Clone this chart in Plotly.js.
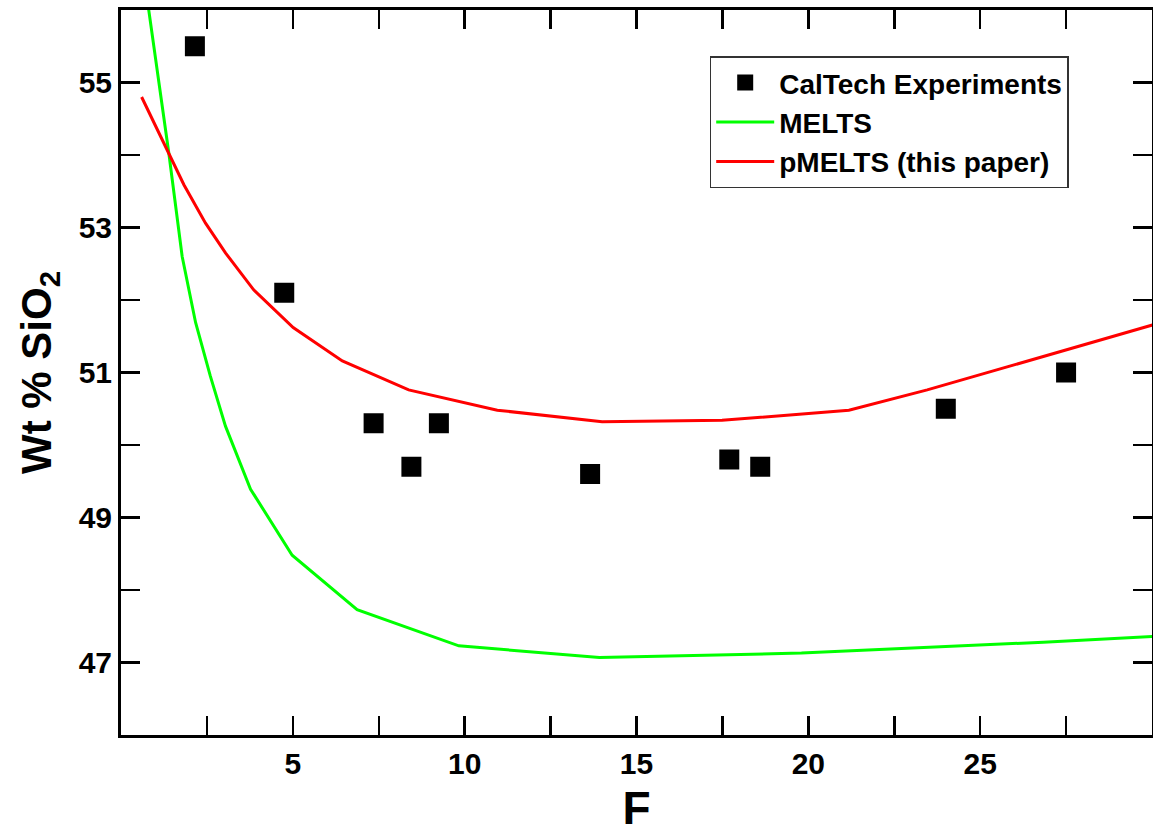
<!DOCTYPE html>
<html>
<head>
<meta charset="utf-8">
<script src="https://cdn.plot.ly/plotly-3.0.1.min.js"></script>
<style>
  html, body { margin: 0; padding: 0; background: #ffffff; }
  #chart { width: 1153px; height: 834px; }
</style>
</head>
<body>
<div id="chart"></div>
<script>
// CalTech experiments
const expF = [2.15, 4.75, 7.35, 8.45, 9.25, 13.65, 17.7, 18.6, 24.0, 27.5];
const expSiO2 = [55.5, 52.1, 50.3, 49.7, 50.3, 49.6, 49.8, 49.7, 50.5, 51.0];

// MELTS
const meltsF = [0.6, 1.39, 1.78, 2.17, 2.6, 3.04, 3.77, 4.98, 6.87, 9.83, 13.92, 19.8, 26.84, 30.05];
const meltsSiO2 = [56.7, 54.03, 52.6, 51.69, 50.95, 50.26, 49.39, 48.48, 47.73, 47.23, 47.07, 47.13, 47.28, 47.36];

// pMELTS (this paper)
const pmeltsF = [0.6, 1.83, 2.46, 3.04, 3.86, 5.01, 6.44, 8.37, 10.95, 14.0, 17.49, 21.18, 23.46, 30.05];
const pmeltsSiO2 = [54.8, 53.59, 53.06, 52.65, 52.14, 51.62, 51.16, 50.76, 50.48, 50.32, 50.34, 50.48, 50.76, 51.66];

const xTickVals = [2.5, 5, 7.5, 10, 12.5, 15, 17.5, 20, 22.5, 25, 27.5];
const xTickText = ['', '5', '', '10', '', '15', '', '20', '', '25', ''];
const yTickVals = [46, 47, 48, 49, 50, 51, 52, 53, 54, 55, 56];
const yTickText = ['', '47', '', '49', '', '51', '', '53', '', '55', ''];

const FONT = 'Liberation Sans, Arial, Helvetica, sans-serif';

const traces = [
  {
    x: expF, y: expSiO2, type: 'scatter', mode: 'markers',
    name: 'CalTech Experiments',
    marker: { symbol: 'square', size: 20, color: '#000000', line: { width: 0 } }
  },
  {
    x: meltsF, y: meltsSiO2, type: 'scatter', mode: 'lines',
    name: 'MELTS',
    line: { color: '#00ff00', width: 3 }
  },
  {
    x: pmeltsF, y: pmeltsSiO2, type: 'scatter', mode: 'lines',
    name: 'pMELTS (this paper)',
    line: { color: '#ff0000', width: 3 }
  }
];

const axisCommon = {
  showgrid: false, zeroline: false,
  showline: true, linecolor: '#000000', linewidth: 3,
  mirror: 'ticks', ticks: 'inside', ticklen: 19, tickwidth: 2.5, tickcolor: '#000000',
  tickmode: 'array',
  tickfont: { family: FONT, size: 30, color: '#000000', weight: 'bold' }
};

const layout = {
  width: 1153, height: 834,
  margin: { l: 121, r: 1, t: 10, b: 99 },
  paper_bgcolor: '#ffffff', plot_bgcolor: '#ffffff',
  showlegend: true,
  legend: {
    x: 0.571, y: 0.936, xanchor: 'left', yanchor: 'top',
    bgcolor: '#ffffff', bordercolor: '#333333', borderwidth: 1.5,
    font: { family: FONT, size: 28, color: '#000000', weight: 'bold' },
    itemwidth: 58,
    tracegroupgap: 0
  },
  xaxis: Object.assign({}, axisCommon, {
    range: [0, 30],
    tickvals: xTickVals, ticktext: xTickText,
    title: { text: 'F', font: { family: FONT, size: 46, color: '#000000', weight: 'bold' }, standoff: 26 }
  }),
  yaxis: Object.assign({}, axisCommon, {
    range: [46, 56],
    tickvals: yTickVals, ticktext: yTickText,
    title: { text: 'Wt % SiO<sub>2</sub>', font: { family: FONT, size: 42, color: '#000000', weight: 'bold' }, standoff: 14 }
  })
};

Plotly.newPlot('chart', traces, layout, { displayModeBar: false, staticPlot: true });
</script>
</body>
</html>
